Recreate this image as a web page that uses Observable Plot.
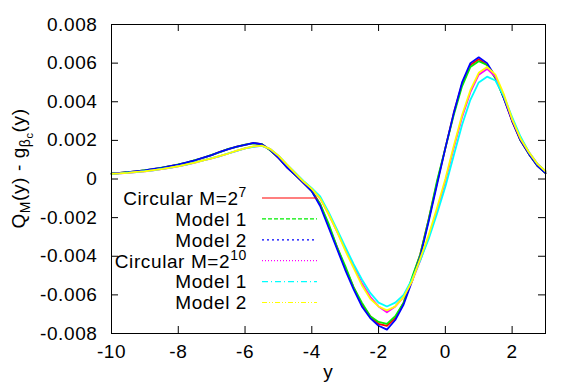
<!DOCTYPE html>
<html><head><meta charset="utf-8">
<script src="https://cdn.jsdelivr.net/npm/d3@7"></script>
<script src="https://cdn.jsdelivr.net/npm/@observablehq/plot@0.6"></script>
<style>
html,body{margin:0;padding:0;background:#fff;}
svg text{font-family:"Liberation Sans",Arial,sans-serif;}
</style>
</head><body>
<div id="chart"></div>
<script>
const xs = [-10,-9.75,-9.5,-9.25,-9,-8.75,-8.5,-8.25,-8,-7.75,-7.5,-7.25,-7,-6.75,-6.5,-6.25,-6,-5.75,-5.5,-5.25,-5,-4.75,-4.5,-4.25,-4,-3.75,-3.5,-3.25,-3,-2.75,-2.5,-2.25,-2,-1.75,-1.5,-1.25,-1,-0.75,-0.5,-0.25,0,0.25,0.5,0.75,1,1.25,1.5,1.75,2,2.25,2.5,2.75,3];

const circular7 = [.00028,.00031,.00035,.00040,.00045,.00051,.00058,.00066,.00075,.00085,.00097,.00110,.00124,.00140,.00155,.00167,.00177,.00186,.00180,.00150,.00110,.00062,.00022,-.00020,-.00062,-.0013,-.0024,-.0035,-.0046,-.0056,-.0065,-.0071,-.0075,-.0076,-.0072,-.0064,-.0052,-.0039,-.0021,-.0002,.0016,.0034,.0049,.0059,.0062,.0059,.0053,.0042,.0030,.0020,.0013,.0007,.0003];
const model1_7 = [.00029,.00031,.00036,.00040,.00046,.00051,.00059,.00066,.00076,.00085,.00098,.00110,.00125,.00139,.00156,.00166,.00178,.00185,.00181,.00149,.00111,.00063,.00021,-.00019,-.00063,-.0013,-.0023,-.0035,-.0045,-.0056,-.0064,-.0071,-.0074,-.0075,-.0071,-.0064,-.0051,-.0039,-.0021,-.0001,.0016,.0033,.0048,.0058,.0061,.0059,.0052,.0042,.0031,.0020,.0013,.0007,.0003];
const model2_7 = [.00028,.00032,.00035,.00041,.00045,.00052,.00058,.00067,.00075,.00086,.00097,.00111,.00124,.00141,.00155,.00168,.00177,.00187,.00180,.00151,.00109,.00061,.00021,-.00021,-.00064,-.0014,-.0025,-.0036,-.0047,-.0057,-.0066,-.0072,-.0076,-.0078,-.0073,-.0065,-.0053,-.0040,-.0022,-.0003,.0016,.0034,.0050,.0060,.0063,.0060,.0053,.0042,.0030,.0020,.0013,.0007,.0003];
const circular10 = [.00026,.00029,.00032,.00036,.00040,.00045,.00051,.00058,.00066,.00075,.00085,.00096,.00107,.00119,.00132,.00146,.00158,.00168,.00172,.00155,.00120,.00075,.00032,-.00012,-.00050,-.0010,-.0018,-.0027,-.0036,-.0045,-.0054,-.0061,-.0066,-.0069,-.0066,-.0061,-.0053,-.0042,-.0030,-.0016,-.0001,.0016,.0032,.0045,.0054,.0057,.0053,.0043,.0031,.0021,.0014,.0008,.0004];
const model1_10 = [.00026,.00029,.00033,.00036,.00041,.00045,.00052,.00058,.00067,.00075,.00086,.00096,.00108,.00119,.00133,.00145,.00159,.00167,.00171,.00156,.00121,.00076,.00033,-.00010,-.00048,-.0009,-.0017,-.0026,-.0035,-.0044,-.0052,-.0059,-.0064,-.0066,-.0064,-.0060,-.0052,-.0042,-.0031,-.0018,-.0004,.0012,.0028,.0041,.0050,.0053,.0051,.0043,.0032,.0022,.0014,.0008,.0004];
const model2_10 = [.00027,.00029,.00032,.00037,.00040,.00046,.00051,.00059,.00066,.00076,.00085,.00097,.00107,.00120,.00132,.00147,.00158,.00169,.00173,.00156,.00121,.00076,.00031,-.00013,-.00051,-.0010,-.0018,-.0027,-.0037,-.0046,-.0055,-.0062,-.0066,-.0068,-.0066,-.0061,-.0053,-.0041,-.0029,-.0015,.0000,.0017,.0033,.0046,.0055,.0058,.0054,.0044,.0031,.0021,.0014,.0008,.0004];

const seriesValues = [circular7, model1_7, model2_7, circular10, model1_10, model2_10];
const legendText = ["Circular M=2", "Model 1", "Model 2", "Circular M=2", "Model 1", "Model 2"];
const legendSup = ["7", "", "", "10", "", ""];
const colors = ["#ff0000", "#00ee00", "#0000ff", "#ff00ff", "#00ffff", "#ffff00"];
const dashes = [null, "4,2", "2,3", "1,2", "6,3,1,3", "5,2,1,2,1,2"];

const xTicks = [-10, -8, -6, -4, -2, 0, 2];
const yTicks = [-0.008, -0.006, -0.004, -0.002, 0, 0.002, 0.004, 0.006, 0.008];

const W = 581, H = 386, mL = 111, mR = 36, mT = 24, mB = 53;
const innerW = W - mL - mR, innerH = H - mT - mB, tk = 7;
const fmtY = d => d === 0 ? "0" : d.toFixed(3);

const lines = seriesValues.map((vals, i) =>
  Plot.line(xs.map((x, j) => ({x, v: vals[j]})), {x: "x", y: "v", stroke: colors[i], strokeWidth: 1.8})
);

const chart = Plot.plot({
  width: W, height: H,
  marginLeft: mL, marginRight: mR, marginTop: mT, marginBottom: mB,
  style: {fontFamily: "Liberation Sans, Arial, sans-serif", fontSize: "19px", color: "#000", background: "#fff"},
  x: {domain: [-10, 3]},
  y: {domain: [-0.008, 0.008]},
  marks: [
    ...lines,
    Plot.tickX(xTicks, {x: d => d, stroke: "#000", insetTop: innerH - tk}),
    Plot.tickX(xTicks, {x: d => d, stroke: "#000", insetBottom: innerH - tk}),
    Plot.tickY(yTicks, {y: d => d, stroke: "#000", insetRight: innerW - tk}),
    Plot.tickY(yTicks, {y: d => d, stroke: "#000", insetLeft: innerW - tk}),
    Plot.axisX(xTicks, {tickSize: 0, tickPadding: 11, tickFormat: d => String(d), label: null, fontSize: 19}),
    Plot.axisY(yTicks, {tickSize: 0, tickPadding: 14, tickFormat: fmtY, label: null, fontSize: 19}),
    Plot.frame({stroke: "#000", strokeWidth: 1})
  ]
});

const svg = d3.select(chart);
svg.selectAll("g[aria-label$='tick label'] text").attr("letter-spacing", "0.6px");

// Axis titles
svg.append("text")
  .attr("x", mL + innerW / 2).attr("y", 378)
  .attr("text-anchor", "middle").attr("font-size", 19).attr("fill", "#000")
  .text("y");

const yl = svg.append("text")
  .attr("transform", `translate(25,${mT + innerH / 2 - 10}) rotate(-90)`)
  .attr("text-anchor", "middle").attr("font-size", 19).attr("fill", "#000").attr("letter-spacing", "0.6px");
yl.append("tspan").text("Q");
yl.append("tspan").attr("font-size", 14).attr("dy", 5).text("M");
yl.append("tspan").attr("dy", -5).text("(y) - g");
yl.append("tspan").attr("font-size", 14).attr("dy", 5).text("β");
yl.append("tspan").attr("font-size", 11).attr("dy", 3).text("c");
yl.append("tspan").attr("dy", -8).text("(y)");

// Legend
const leg = svg.append("g");
const rowY0 = 198, rowStep = 20.9, textEnd = 247, lineX1 = 262, lineX2 = 317;
legendText.forEach((t, i) => {
  const y = rowY0 + i * rowStep;
  const tx = leg.append("text")
    .attr("x", textEnd).attr("y", y).attr("dy", "0.36em")
    .attr("text-anchor", "end").attr("font-size", 19).attr("fill", "#000").attr("letter-spacing", "0.6px");
  tx.append("tspan").text(t);
  if (legendSup[i]) tx.append("tspan").attr("font-size", 14).attr("dy", -8).text(legendSup[i]);
  const ln = leg.append("line")
    .attr("x1", lineX1).attr("x2", lineX2).attr("y1", y).attr("y2", y)
    .attr("stroke", colors[i]).attr("stroke-width", 1.2);
  if (dashes[i]) ln.attr("stroke-dasharray", dashes[i]);
});

document.getElementById("chart").appendChild(chart);
</script>
</body></html>
